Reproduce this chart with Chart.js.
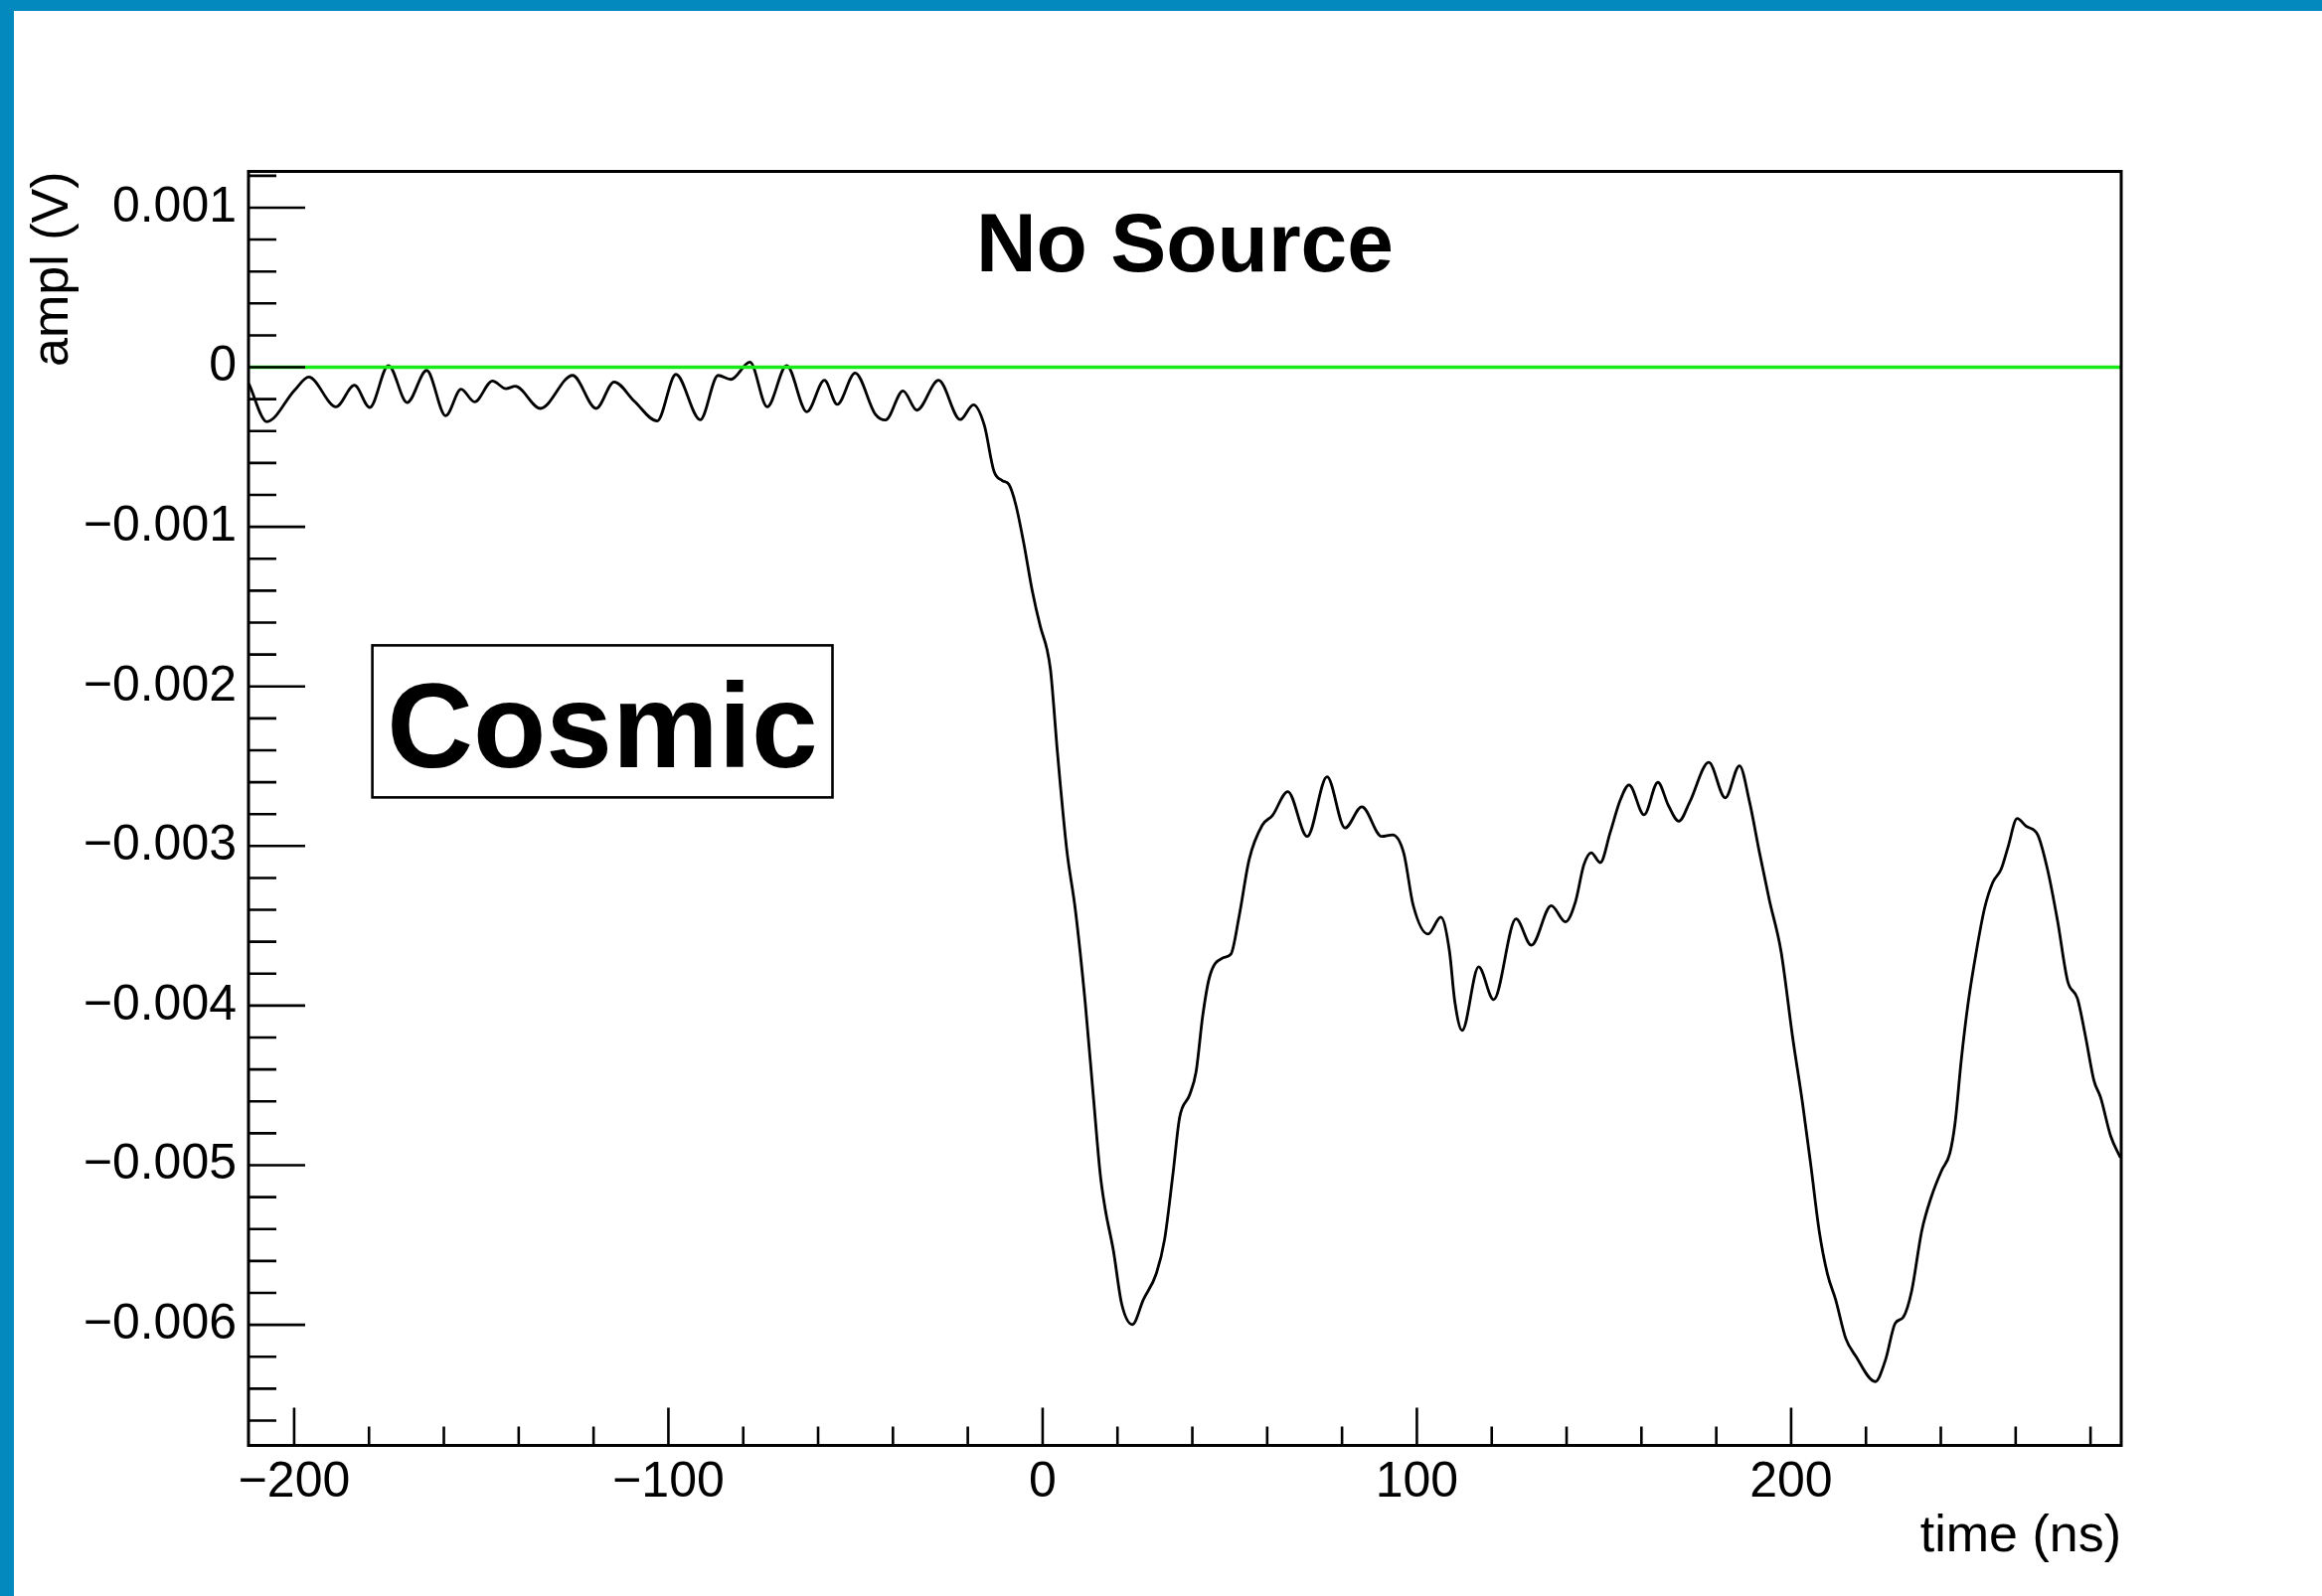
<!DOCTYPE html>
<html>
<head>
<meta charset="utf-8">
<title>Cosmic waveform</title>
<script src="https://cdn.jsdelivr.net/npm/chart.js@4.4.1/dist/chart.umd.min.js"></script>
<style>
  html, body { margin: 0; padding: 0; background: #fff; }
  #frame {
    position: absolute; left: 0; top: 0;
    width: 2336px; height: 1606px;
    box-sizing: border-box;
    border-left: 14px solid #0389bd;
    border-top: 11px solid #0389bd;
    background: #fff;
  }
  #c { display: block; width: 2322px; height: 1595px; }
</style>
</head>
<body>
<div id="frame"><canvas id="c" width="2322" height="1595"></canvas></div>
<script>
// Sampled waveform: time in ns, amplitude in mV (converted to V when plotted)
const timeNs = [
  -212.1, -207.3, -199.9, -196.1, -188.8, -183.9, -179.8, -174.8, -169.8, -164.6,
  -159.5, -155.4, -151.8, -147.0, -143.4, -140.9, -134.2, -125.6, -119.3, -114.5,
  -109.1, -103.0, -98.0, -91.5, -86.7, -83.3, -78.2, -73.6, -68.4, -63.0,
  -58.3, -54.9, -50.1, -44.7, -42.0, -37.3, -33.6, -27.8, -22.0, -18.5,
  -15.6, -13.0, -10.8, -9.0, -7.2, -5.0, -2.8, -0.6, 1.2, 2.1, 2.9, 3.8, 4.7,
  6.5, 8.7, 11.4, 13.6, 15.4, 16.7, 18.9, 21.1, 24.0, 26.9, 30.4, 32.6, 34.8,
  36.6, 39.3, 41.0, 42.8, 44.6, 48.1, 50.3, 52.5, 55.2, 58.7, 61.4, 65.5, 70.7,
  76.0, 80.8, 85.3, 90.6, 93.5, 96.5, 99.0, 103.0,
  106.4, 108.7, 110.1, 112.1, 116.5, 120.5, 126.5, 130.6, 135.9, 139.7,
  142.4, 144.6, 146.6, 149.0, 151.7, 154.3, 156.7, 160.7, 164.4, 167.2,
  170.0, 172.9, 178.0, 182.4, 186.2, 188.9, 191.5, 194.2,
  197.3, 200.4, 203.0, 205.3, 207.5, 209.7, 211.9, 214.6, 217.2, 222.5,
  225.2, 227.8, 230.0, 232.2, 234.9, 237.5, 240.2, 242.4, 243.8, 245.5,
  247.3, 249.5, 251.7, 253.9, 256.1, 257.9, 260.4, 262.8, 265.9, 268.5,
  271.2, 273.9, 276.5, 278.7, 280.9, 282.7, 285.4, 288.0
];
const amplMilliVolt = [
  -0.103, -0.341, -0.144, -0.061, -0.248, -0.113, -0.252, 0.011, -0.221, -0.020,
  -0.304, -0.138, -0.217, -0.086, -0.134, -0.119, -0.258, -0.051, -0.258, -0.092,
  -0.213, -0.337, -0.045, -0.329, -0.051, -0.076, 0.032, -0.248, 0.011, -0.279,
  -0.082, -0.233, -0.036, -0.295, -0.331, -0.148, -0.269, -0.082, -0.328, -0.235,
  -0.362, -0.652, -0.710, -0.735, -0.859, -1.108, -1.398, -1.626, -1.771, -1.896, -2.103, -2.373, -2.610,
  -3.035, -3.392, -3.987, -4.582, -5.058, -5.272, -5.534, -5.867, -5.998, -5.843, -5.677, -5.463, -5.058,
  -4.701, -4.558, -4.415, -4.059, -3.820, -3.702, -3.678, -3.440, -3.083, -2.869, -2.809, -2.659, -2.940,
  -2.566, -2.887, -2.754, -2.940, -2.930, -3.045, -3.370, -3.552,
  -3.446, -3.658, -3.969, -4.155, -3.757, -3.963, -3.457, -3.622, -3.374, -3.475,
  -3.347, -3.119, -3.042, -3.104, -2.912, -2.715, -2.617, -2.804, -2.601, -2.746,
  -2.845, -2.725, -2.476, -2.698, -2.497, -2.725, -3.036, -3.340,
  -3.659, -4.198, -4.603, -5.007, -5.412, -5.681, -5.843, -6.086, -6.194, -6.356,
  -6.221, -5.991, -5.951, -5.789, -5.412, -5.196, -5.034, -4.926, -4.737, -4.333,
  -3.983, -3.659, -3.389, -3.227, -3.146, -3.011, -2.828, -2.876, -2.930, -3.146,
  -3.470, -3.848, -3.955, -4.198, -4.468, -4.576, -4.818, -4.953
];

// Reference level (no source): flat line at 0 V across the window
const refTimeNs = [-212.2, 288.2];
const refAmplV = [0, 0];

// Axis ranges and tick labels
const xRange = [-212.2, 288.2];
const yRange = [-0.006756, 0.001227];
const xTickValues = [-200, -100, 0, 100, 200];
const xTickLabels = ['\u2212200', '\u2212100', '0', '100', '200'];
const yTickValues = [0.001, 0, -0.001, -0.002, -0.003, -0.004, -0.005, -0.006];
const yTickLabels = ['0.001', '0', '\u22120.001', '\u22120.002', '\u22120.003', '\u22120.004', '\u22120.005', '\u22120.006'];

const FONT = '"Liberation Sans", Arial, Helvetica, sans-serif';
const GREEN = '#17ea17';

// Frame, inward ticks (major + minor) and the two text labels
const decor = {
  id: 'decor',
  afterDatasetsDraw(chart) {
    const { ctx, chartArea: a, scales: { x, y } } = chart;
    ctx.save();
    ctx.strokeStyle = '#000';
    ctx.lineWidth = 2.6;
    ctx.beginPath();
    const xStep = 20;
    for (let k = Math.ceil(x.min / xStep); k * xStep <= x.max; k++) {
      const px = x.getPixelForValue(k * xStep);
      const len = (k % 5 === 0) ? 38 : 19;
      ctx.moveTo(px, a.bottom);
      ctx.lineTo(px, a.bottom - len);
    }
    const yStep = 0.0002;
    for (let k = Math.ceil(y.min / yStep - 1e-9); k * yStep <= y.max + 1e-12; k++) {
      const py = y.getPixelForValue(k * yStep);
      const len = (k % 5 === 0) ? 57 : 28;
      ctx.moveTo(a.left, py);
      ctx.lineTo(a.left + len, py);
    }
    ctx.stroke();
    ctx.lineWidth = 3;
    ctx.strokeRect(a.left, a.top, a.right - a.left, a.bottom - a.top);
    ctx.restore();
  },
  afterDraw(chart) {
    const { ctx, chartArea: a } = chart;
    ctx.save();
    ctx.fillStyle = '#000';
    ctx.textAlign = 'center';
    ctx.textBaseline = 'alphabetic';
    ctx.font = 'bold 84px ' + FONT;
    ctx.fillText('No Source', (a.left + a.right) / 2, 262);

    const bx = 360.6, by = 638.4, bw = 462.9, bh = 153;
    ctx.fillStyle = '#fff';
    ctx.fillRect(bx, by, bw, bh);
    ctx.strokeStyle = '#000';
    ctx.lineWidth = 2.6;
    ctx.strokeRect(bx, by, bw, bh);
    ctx.fillStyle = '#000';
    ctx.font = 'bold 120px ' + FONT;
    ctx.fillText('Cosmic', bx + bw / 2, 761);
    ctx.restore();
  }
};

new Chart(document.getElementById('c'), {
  type: 'line',
  data: {
    datasets: [
      {
        label: 'No Source',
        data: refTimeNs.map((t, i) => ({ x: t, y: refAmplV[i] })),
        borderColor: GREEN,
        borderWidth: 3.4,
        pointRadius: 0,
        tension: 0
      },
      {
        label: 'Cosmic',
        data: timeNs.map((t, i) => ({ x: t, y: amplMilliVolt[i] / 1000 })),
        borderColor: '#000',
        borderWidth: 2.8,
        pointRadius: 0,
        cubicInterpolationMode: 'monotone'
      }
    ]
  },
  options: {
    responsive: false,
    animation: false,
    events: [],
    layout: { padding: { left: 0, right: 202, top: 161.5, bottom: 0 } },
    plugins: { legend: { display: false }, tooltip: { enabled: false } },
    scales: {
      x: {
        type: 'linear',
        min: xRange[0],
        max: xRange[1],
        afterFit(s) { s.height = 151.5; },
        afterBuildTicks(s) { s.ticks = xTickValues.map(v => ({ value: v })); },
        grid: { display: false, drawTicks: false },
        border: { display: false },
        ticks: {
          autoSkip: false, maxRotation: 0, minRotation: 0,
          padding: 8, color: '#000',
          font: { family: FONT, size: 50 },
          callback: (v) => xTickLabels[xTickValues.indexOf(v)]
        },
        title: {
          display: true, text: 'time (ns)', align: 'end', color: '#000',
          font: { family: FONT, size: 52 },
          padding: { top: 0, bottom: 28 }
        }
      },
      y: {
        type: 'linear',
        min: yRange[0],
        max: yRange[1],
        afterFit(s) { s.width = 236; },
        afterBuildTicks(s) { s.ticks = yTickValues.map(v => ({ value: v })); },
        grid: { display: false, drawTicks: false },
        border: { display: false },
        ticks: {
          autoSkip: false, padding: 12, color: '#000',
          font: { family: FONT, size: 50 },
          callback: (v) => yTickLabels[yTickValues.indexOf(v)]
        },
        title: {
          display: true, text: 'ampl (V)', align: 'end', color: '#000',
          font: { family: FONT, size: 52 },
          padding: { top: 8, bottom: 0 }
        }
      }
    }
  },
  plugins: [decor]
});
</script>
</body>
</html>
